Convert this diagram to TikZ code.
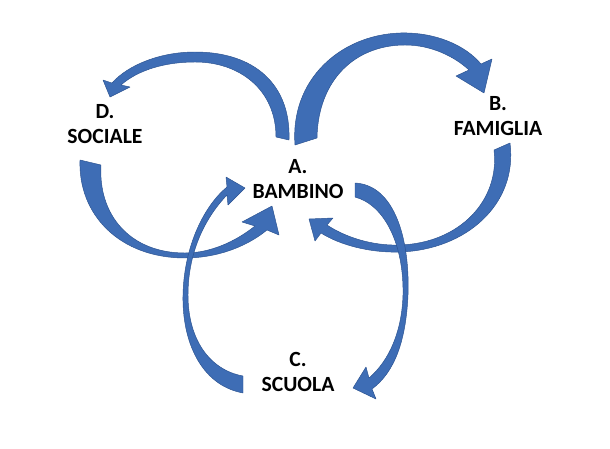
\documentclass[tikz,border=0pt]{standalone}
\usepackage{fontspec}
\setmainfont{Carlito}
\usepackage{xcolor}
\definecolor{freccia}{HTML}{3E6DB5}
\definecolor{bordo}{HTML}{2B5290}
\usepackage{tikz}

\begin{document}
\begin{tikzpicture}[x=0.03cm, y=-0.03cm,
  voce/.style={align=center, font=\fontsize{18.5pt}{21pt}\selectfont\bfseries},
  frecciona/.style={fill=freccia, draw=bordo, line width=0.4pt, line join=round}]
  \useasboundingbox (0,0) rectangle (610,449);
  % etichette
  \node[voce] (A) at (298,179) {A.\\BAMBINO};
  \node[voce] (B) at (498,116) {B.\\FAMIGLIA};
  \node[voce] (C) at (298,372) {C.\\SCUOLA};
  \node[voce] (D) at (105,124) {D.\\SOCIALE};
  % A -> D
  \filldraw[frecciona] (289,140) .. controls (291,85) and (255,52) .. (195,52)
    .. controls (160,52) and (128,65) .. (112,83)
    -- (103,80) -- (110,97) -- (130,87) -- (121,85)
    .. controls (138,70) and (165,62) .. (195,62)
    .. controls (240,62) and (276,90) .. (276,137) -- cycle;
  % A -> B
  \filldraw[frecciona] (295,145) .. controls (290,80) and (340,35) .. (400,33)
    .. controls (435,32) and (465,45) .. (481,64)
    -- (492,59) -- (484,93) -- (456,76) -- (469,70)
    .. controls (455,57) and (432,45) .. (405,45)
    .. controls (355,45) and (318,80) .. (317,138) -- cycle;
  % B -> A
  \filldraw[frecciona] (510,143) .. controls (518,205) and (465,250) .. (400,252)
    .. controls (370,253) and (340,245) .. (321,233)
    -- (315,241) -- (309,219) -- (333,218) -- (327,225)
    .. controls (345,237) and (372,246) .. (400,245)
    .. controls (460,243) and (500,200) .. (494,150) -- cycle;
  % D -> A
  \filldraw[frecciona] (80,160) .. controls (78,215) and (120,258) .. (185,258)
    .. controls (215,258) and (245,248) .. (267,230)
    -- (279,235) -- (272,206) -- (242,222) -- (255,226)
    .. controls (235,242) and (210,253) .. (185,253)
    .. controls (130,253) and (98,215) .. (101,165) -- cycle;
  % A -> C
  \filldraw[frecciona] (355,183) .. controls (395,185) and (410,240) .. (408,295)
    .. controls (406,340) and (395,372) .. (372,389)
    -- (376,399) -- (353,388) -- (366,367) -- (369,378)
    .. controls (390,360) and (402,330) .. (403,295)
    .. controls (404,245) and (385,205) .. (355,197) -- cycle;
  % C -> A
  \filldraw[frecciona] (243,393) .. controls (200,385) and (182,340) .. (183,295)
    .. controls (184,245) and (205,205) .. (227,187)
    -- (226,177) -- (245,188) -- (228,205) -- (227,195)
    .. controls (203,220) and (188,255) .. (188,295)
    .. controls (188,340) and (210,370) .. (243,376) -- cycle;
\end{tikzpicture}
\end{document}
